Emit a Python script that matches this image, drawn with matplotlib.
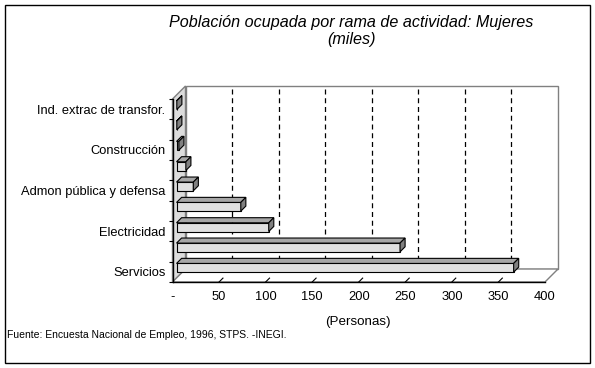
import matplotlib
matplotlib.use("Agg")
import matplotlib.pyplot as plt
from matplotlib.patches import Polygon, Rectangle

plt.rcParams['font.family'] = ['Liberation Sans', 'DejaVu Sans']

# categories bottom -> top; only every other label is shown in the original
labels = ["Servicios", "", "Electricidad", "", "Admon pública y defensa",
          "", "Construcción", "", "Ind. extrac de transfor."]
values = [362, 240, 99, 69, 18, 10, 2.5, 0.3, 0.3]
xticks = [0, 50, 100, 150, 200, 250, 300, 350, 400]
xticklabels = ["-", "50", "100", "150", "200", "250", "300", "350", "400"]

W, H = 595, 368
fig = plt.figure(figsize=(W / 100, H / 100), dpi=100)

# front plane of the 3d box, in pixels
left, right, top, bottom = 172.5, 545, 99, 282
ax = fig.add_axes([left / W, 1 - bottom / H, (right - left) / W, (bottom - top) / H])
ax.patch.set_alpha(0)

xmax = xticks[-1]
n = len(values)
ax.set_xlim(0, xmax)
ax.set_ylim(-0.5, n - 0.5)

# depth offset (13 px) in data units
depth = 13
dx = depth * xmax / (right - left)
dy = depth * n / (bottom - top)

# walls
ax.add_patch(Rectangle((dx, -0.5 + dy), xmax, n, fc='white', ec='#808080',
                       lw=1, clip_on=False, zorder=0))
ax.add_patch(Polygon([(0, -0.5), (0, n - 0.5), (dx, n - 0.5 + dy), (dx, -0.5 + dy)],
                     fc='#dcdcdc', ec='#808080', lw=1, clip_on=False, zorder=0.5))
ax.add_patch(Polygon([(0, -0.5), (xmax, -0.5), (xmax + dx, -0.5 + dy), (dx, -0.5 + dy)],
                     fc='white', ec='#808080', lw=1, clip_on=False, zorder=0.5))

# dashed gridlines on back wall
for t in xticks[1:-1]:
    ax.plot([t + dx, t + dx], [-0.5 + dy, n - 0.5 + dy], color='black', lw=0.9,
            ls=(0, (4, 3)), clip_on=False, zorder=1)

# slanted ticks on the floor
for t in xticks[1:-1]:
    ax.plot([t, t + 0.3 * dx], [-0.5, -0.5 + 0.3 * dy], color='black', lw=0.8,
            clip_on=False, zorder=1)

# bars
f0, f1, h = 0.31, 0.7, 0.43
ddx, ddy = (f1 - f0) * dx, (f1 - f0) * dy
ypos = [i + f0 * dy for i in range(n)]
ax.barh(ypos, values, left=f0 * dx, height=h, color='#e0e0e0',
        edgecolor='black', lw=0.8, zorder=3, clip_on=False)
for y, v in zip(ypos, values):
    x0 = f0 * dx
    x1 = x0 + v
    yt = y + h / 2
    yb = y - h / 2
    ax.add_patch(Polygon([(x0, yt), (x1, yt), (x1 + ddx, yt + ddy), (x0 + ddx, yt + ddy)],
                         fc='#a6a6a6', ec='black', lw=0.8, clip_on=False, zorder=3))
    ax.add_patch(Polygon([(x1, yb), (x1 + ddx, yb + ddy), (x1 + ddx, yt + ddy), (x1, yt)],
                         fc='#808080', ec='black', lw=0.8, clip_on=False, zorder=3))

for s in ['top', 'right']:
    ax.spines[s].set_visible(False)
for s in ['left', 'bottom']:
    ax.spines[s].set_color('black')
    ax.spines[s].set_linewidth(1)
    ax.spines[s].set_zorder(2)

ax.set_yticks(range(n), labels, fontsize=9.3)
ax.set_yticks([i - 0.5 for i in range(n + 1)], minor=True)
ax.tick_params(axis='y', which='major', length=0, pad=5)
ax.tick_params(axis='y', which='minor', length=3, width=0.8)
ax.set_xticks(xticks, xticklabels, fontsize=9.3)
ax.tick_params(axis='x', length=0, pad=6.5)

fig.text(351 / W, 1 - 31 / H, "Población ocupada por rama de actividad: Mujeres\n(miles)",
         ha='center', va='center', style='italic', fontsize=11.6, linespacing=1.1)
fig.text(358 / W, 1 - 322 / H, "(Personas)", ha='center', va='center', fontsize=9.6)
fig.text(7 / W, 1 - 335 / H, "Fuente: Encuesta Nacional de Empleo, 1996, STPS. -INEGI.",
         ha='left', va='center', fontsize=7.45)

fig.add_artist(Rectangle((5 / W, 1 - 363 / H), 585 / W, 358 / H, transform=fig.transFigure,
                         fill=False, ec='black', lw=1))

fig.savefig('out.png', dpi=100)
